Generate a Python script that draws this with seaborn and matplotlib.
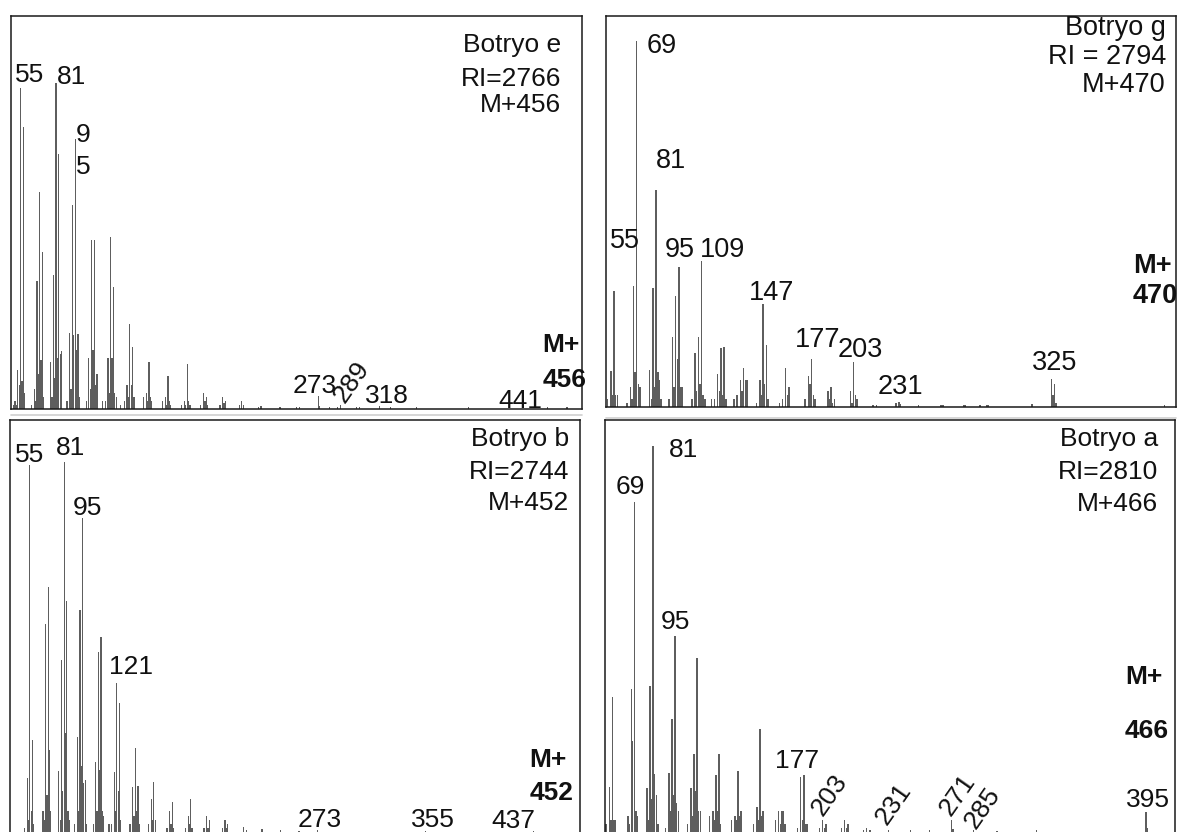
import matplotlib
matplotlib.use("Agg")
import matplotlib.pyplot as plt
from matplotlib.lines import Line2D
import pandas as pd
import seaborn as sns

sns.set_theme(style="white")
plt.rcParams["font.family"] = ["Liberation Sans", "DejaVu Sans"]

# ---- spectra (m/z, relative intensity) ----

# Botryo e
mz_e = [50, 51, 52, 53, 54, 55, 56, 57, 58,
        63, 65, 66, 67, 68, 69, 70, 71, 72,
        77, 78, 79, 80, 81, 82, 83, 84, 85,
        89, 91, 92, 93, 94, 95, 96, 97, 98,
        103, 105, 106, 107, 108, 109, 110, 111,
        115, 117, 119, 120, 121, 122, 123, 124, 125,
        128, 131, 133, 134, 135, 136, 137, 138,
        145, 147, 148, 149, 150, 151,
        159, 161, 162, 163, 164, 165,
        173, 175, 176, 177, 178, 179,
        187, 189, 190, 191, 192,
        201, 203, 204, 205,
        215, 217, 218, 229, 231, 245, 257, 259,
        273, 274, 281, 287, 289, 301, 303, 318, 326, 345, 383, 441, 455]
int_e = [0.01, 0.02, 0.01, 0.10, 0.06, 0.816, 0.07, 0.717, 0.04,
         0.01, 0.05, 0.02, 0.326, 0.09, 0.553, 0.125, 0.40, 0.03,
         0.12, 0.03, 0.34, 0.08, 0.83, 0.13, 0.649, 0.14, 0.147,
         0.02, 0.194, 0.05, 0.519, 0.188, 0.686, 0.15, 0.19, 0.03,
         0.02, 0.13, 0.05, 0.43, 0.15, 0.43, 0.06, 0.09,
         0.02, 0.02, 0.13, 0.04, 0.438, 0.13, 0.31, 0.04, 0.03,
         0.01, 0.02, 0.06, 0.03, 0.216, 0.06, 0.159, 0.03,
         0.03, 0.04, 0.02, 0.12, 0.03, 0.02,
         0.02, 0.03, 0.01, 0.084, 0.02, 0.01,
         0.01, 0.02, 0.01, 0.114, 0.02, 0.01,
         0.01, 0.04, 0.02, 0.03, 0.01,
         0.01, 0.03, 0.015, 0.02,
         0.01, 0.02, 0.01, 0.005, 0.008, 0.004, 0.004, 0.005,
         0.034, 0.008, 0.005, 0.006, 0.01, 0.005, 0.005, 0.008, 0.004, 0.004, 0.004, 0.005, 0.006]

# Botryo g
mz_g = [51, 53, 54, 55, 56, 57,
        63, 65, 66, 67, 68, 69, 70, 71,
        77, 78, 79, 80, 81, 82, 83, 84,
        89, 91, 92, 93, 94, 95, 96, 97,
        103, 105, 106, 107, 108, 109, 110, 111,
        115, 117, 119, 120, 121, 122, 123, 124,
        129, 131, 133, 134, 135, 136, 137,
        143, 145, 146, 147, 148, 149, 150,
        157, 159, 161, 162, 163,
        173, 175, 176, 177, 178, 179,
        187, 188, 189, 190, 191,
        201, 202, 203, 204, 205,
        215, 217, 229, 231, 232, 243, 257, 258, 271, 272, 281, 285, 286,
        313, 325, 326, 327, 328, 395]
int_g = [0.02, 0.092, 0.03, 0.297, 0.03, 0.03,
         0.01, 0.05, 0.02, 0.31, 0.09, 0.937, 0.06, 0.05,
         0.095, 0.02, 0.304, 0.05, 0.555, 0.09, 0.07, 0.02,
         0.02, 0.178, 0.05, 0.284, 0.124, 0.359, 0.05, 0.05,
         0.02, 0.137, 0.04, 0.18, 0.06, 0.374, 0.03, 0.02,
         0.02, 0.02, 0.085, 0.04, 0.15, 0.03, 0.154, 0.02,
         0.02, 0.03, 0.069, 0.04, 0.099, 0.07, 0.07,
         0.01, 0.07, 0.03, 0.263, 0.06, 0.159, 0.02,
         0.01, 0.02, 0.10, 0.03, 0.05,
         0.02, 0.079, 0.06, 0.124, 0.03, 0.02,
         0.04, 0.02, 0.05, 0.01, 0.02,
         0.04, 0.01, 0.116, 0.03, 0.02,
         0.005, 0.006, 0.01, 0.014, 0.008, 0.005, 0.005, 0.004, 0.006, 0.004, 0.005, 0.006, 0.004,
         0.008, 0.071, 0.03, 0.06, 0.01, 0.005]

# Botryo b
mz_b = [51, 53, 54, 55, 56, 57, 58,
        65, 66, 67, 68, 69, 70, 71,
        77, 78, 79, 80, 81, 82, 83, 84, 85,
        89, 91, 92, 93, 94, 95, 96, 97, 98,
        103, 105, 106, 107, 108, 109, 110, 111,
        115, 117, 119, 120, 121, 122, 123, 124,
        131, 133, 134, 135, 136, 137, 138,
        145, 147, 148, 149, 150,
        159, 161, 162, 163, 164,
        173, 175, 176, 177, 178,
        187, 189, 190, 191,
        201, 203, 204, 205,
        217, 219, 231, 245, 259, 273, 355, 437]
int_b = [0.01, 0.13, 0.03, 0.89, 0.05, 0.223, 0.02,
         0.05, 0.03, 0.506, 0.09, 0.595, 0.20, 0.05,
         0.147, 0.03, 0.417, 0.10, 0.899, 0.24, 0.561, 0.05, 0.03,
         0.02, 0.231, 0.05, 0.54, 0.16, 0.761, 0.12, 0.126, 0.02,
         0.02, 0.17, 0.05, 0.436, 0.15, 0.474, 0.05, 0.04,
         0.02, 0.02, 0.145, 0.05, 0.362, 0.10, 0.314, 0.03,
         0.02, 0.11, 0.04, 0.205, 0.05, 0.112, 0.02,
         0.02, 0.08, 0.03, 0.122, 0.03,
         0.01, 0.05, 0.02, 0.073, 0.01,
         0.01, 0.04, 0.02, 0.081, 0.01,
         0.01, 0.04, 0.01, 0.03,
         0.01, 0.03, 0.01, 0.02,
         0.013, 0.005, 0.008, 0.004, 0.003, 0.004, 0.002, 0.002]

# Botryo a
mz_a = [51, 53, 54, 55, 56, 57,
        65, 66, 67, 68, 69, 70, 71,
        77, 78, 79, 80, 81, 82, 83, 84,
        89, 91, 92, 93, 94, 95, 96, 97,
        103, 105, 106, 107, 108, 109, 110, 111,
        117, 119, 120, 121, 122, 123, 124,
        131, 133, 134, 135, 136, 137,
        145, 147, 148, 149, 150, 151,
        159, 161, 162, 163, 164, 165,
        173, 175, 176, 177, 178, 179,
        187, 189, 190, 191,
        201, 203, 204, 205,
        215, 217, 219, 231, 245, 257, 271, 272, 285, 300, 325, 395, 396]
int_a = [0.02, 0.11, 0.03, 0.328, 0.03, 0.03,
         0.04, 0.02, 0.346, 0.22, 0.80, 0.05, 0.04,
         0.107, 0.03, 0.355, 0.08, 0.937, 0.14, 0.09, 0.02,
         0.01, 0.144, 0.05, 0.274, 0.09, 0.476, 0.07, 0.05,
         0.02, 0.108, 0.04, 0.189, 0.10, 0.423, 0.05, 0.05,
         0.04, 0.05, 0.03, 0.138, 0.05, 0.189, 0.02,
         0.03, 0.04, 0.03, 0.148, 0.04, 0.05,
         0.02, 0.06, 0.03, 0.25, 0.04, 0.05,
         0.03, 0.05, 0.02, 0.05, 0.05, 0.02,
         0.01, 0.133, 0.03, 0.138, 0.02, 0.02,
         0.01, 0.03, 0.01, 0.02,
         0.01, 0.03, 0.01, 0.02,
         0.005, 0.01, 0.005, 0.006, 0.004, 0.005, 0.03, 0.008, 0.004, 0.003, 0.004, 0.049, 0.01]

names = ["Botryo e", "Botryo g", "Botryo b", "Botryo a"]
ri_text = ["RI=2766", "RI = 2794", "RI=2744", "RI=2810"]
mplus_text = ["M+456", "M+470", "M+452", "M+466"]
mol_ion = ["456", "470", "452", "466"]

# ---- layout (pixels of the 1177x832 canvas) ----
W, H = 1177, 832
fig = plt.figure(figsize=(W / 100, H / 100), dpi=100)


def add_ax(x0, y_top, x1, y_bot):
    return fig.add_axes([x0 / W, (H - y_bot) / H, (x1 - x0) / W, (y_bot - y_top) / H])


panels = [
    dict(ax=add_ax(11, 16, 582, 409), mz=mz_e, inten=int_e, xlim=(48, 466), ylim=(0, 1), fs=19,
         head=(450.6, [0.908, 0.822, 0.756]), mp=(437.1, 0.146, 0.057),
         labels=[("55", 50.8, 0.832, 0), ("81", 81.6, 0.827, 0), ("9", 95.5, 0.68, 0),
                 ("5", 95.5, 0.598, 0), ("273", 254.3, 0.041, 0), ("289", 297.3, 0.069, 55),
                 ("318", 307, 0.015, 0), ("441", 405, 0.003, 0)]),
    dict(ax=add_ax(606, 16, 1176, 407), mz=mz_g, inten=int_g, xlim=(50, 402), ylim=(0, 1), fs=19.5,
         head=(395.7, [0.951, 0.877, 0.806]), mp=(375.5, 0.342, 0.265),
         labels=[("69", 75.2, 0.905, 0), ("81", 80.9, 0.61, 0), ("55", 52.5, 0.406, 0),
                 ("95", 86, 0.383, 0), ("109", 108.1, 0.383, 0), ("147", 138.5, 0.274, 0),
                 ("177", 166.7, 0.154, 0), ("203", 192.8, 0.129, 0), ("231", 217.9, 0.033, 0),
                 ("325", 312.8, 0.095, 0)]),
    dict(ax=add_ax(10, 420, 580, 835), mz=mz_b, inten=int_b, xlim=(40, 472), ylim=(-3 / 412, 1), fs=19,
         head=(464, [0.937, 0.857, 0.782]), mp=(433.8, 0.158, 0.078),
         labels=[("55", 43.6, 0.899, 0), ("81", 74.7, 0.915, 0), ("95", 87.3, 0.769, 0),
                 ("121", 115.1, 0.383, 0), ("273", 258.3, 0.013, 0), ("355", 344.2, 0.013, 0),
                 ("437", 405.2, 0.009, 0)]),
    dict(ax=add_ax(605, 420, 1175, 835), mz=mz_a, inten=int_a, xlim=(50.3, 413.4), ylim=(-3 / 412, 1), fs=19,
         head=(402.8, [0.937, 0.857, 0.78]), mp=(381.5, 0.359, 0.227),
         labels=[("69", 57.3, 0.82, 0), ("81", 91.3, 0.911, 0), ("95", 86, 0.493, 0),
                 ("177", 158.6, 0.155, 0), ("203", 193.5, 0.09, 55), ("231", 234.4, 0.068, 55),
                 ("271", 275.1, 0.09, 55), ("285", 290.5, 0.058, 55), ("395", 382.2, 0.061, 0)]),
]

for i, p in enumerate(panels):
    ax = p["ax"]
    df = pd.DataFrame({"mz": p["mz"], "intensity": p["inten"]})
    sns.histplot(data=df, x="mz", weights="intensity", discrete=True, shrink=0.9,
                 color="#5e5e5e", alpha=1, linewidth=0, ax=ax)
    ax.set_xlim(*p["xlim"])
    ax.set_ylim(*p["ylim"])
    ax.set_xticks([])
    ax.set_yticks([])
    ax.set_xlabel("")
    ax.set_ylabel("")
    for s in ax.spines.values():
        s.set_visible(True)
        s.set_color("#1a1a1a")
        s.set_linewidth(1.1)

    fs = p["fs"]
    hx, hy = p["head"]
    for txt, y in zip([names[i], ri_text[i], mplus_text[i]], hy):
        ax.text(hx, y, txt, ha="right", va="baseline", fontsize=fs, color="#111111")

    mx, my1, my2 = p["mp"]
    ax.text(mx, my1, "M+", ha="left", va="baseline", fontsize=fs, fontweight="bold",
            color="#111111", clip_on=False)
    ax.text(mx, my2, mol_ion[i], ha="left", va="baseline", fontsize=fs, fontweight="bold",
            color="#111111", clip_on=False)

    for txt, x, y, rot in p["labels"]:
        if rot:
            ax.text(x, y, txt, ha="center", va="center", rotation=rot, rotation_mode="anchor",
                    fontsize=fs, color="#111111")
        else:
            ax.text(x, y, txt, ha="left", va="baseline", fontsize=fs, color="#111111")

# faint separator under the upper panels
fig.add_artist(Line2D([11 / W, 582 / W], [(H - 415) / H] * 2, color="#cfcfcf", lw=1.2))
fig.add_artist(Line2D([606 / W, 1 - 1 / W], [(H - 418) / H] * 2, color="#cfcfcf", lw=1.2))

fig.savefig("out.png", dpi=100)
